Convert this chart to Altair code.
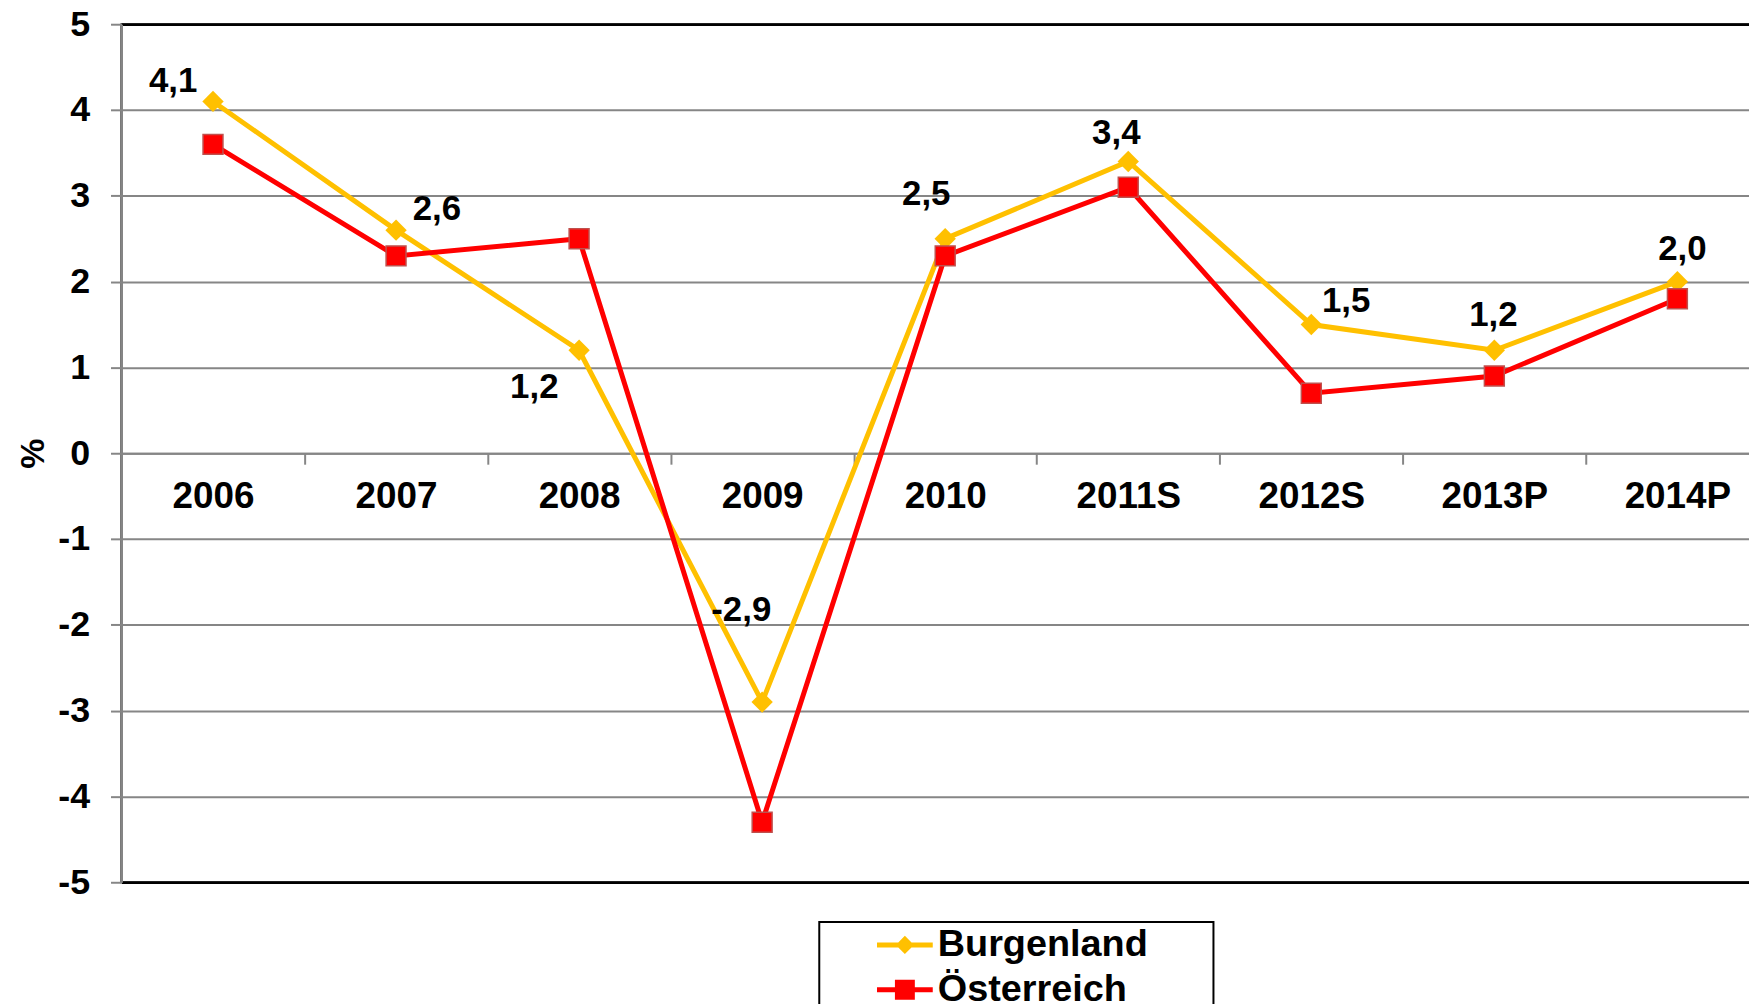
import altair as alt
import pandas as pd

# ---------------- data ----------------
categories = ["2006", "2007", "2008", "2009", "2010", "2011S", "2012S", "2013P", "2014P"]
burgenland = [4.1, 2.6, 1.2, -2.9, 2.5, 3.4, 1.5, 1.2, 2.0]
oesterreich = [3.6, 2.3, 2.5, -4.3, 2.3, 3.1, 0.7, 0.9, 1.8]
series_names = ["Burgenland", "Österreich"]
y_ticks = [-5, -4, -3, -2, -1, 0, 1, 2, 3, 4, 5]

# label placement (styling: pixel offsets of each Burgenland value label)
label_dx = [-40, 41, -45, -21, -19, -12, 35, -1, 5]
label_dy = [-20, -21, 37, -92, -45, -29, -24, -35, -33]

FONT = "Liberation Sans"
GOLD = "#FFC000"
RED = "#FF0000"
GRID = "#868686"

df = pd.DataFrame({
    "category": categories + categories,
    "series": [series_names[0]] * len(categories) + [series_names[1]] * len(categories),
    "value": burgenland + oesterreich,
})

x_enc = alt.X(
    "category:N",
    sort=categories,
    scale=alt.Scale(type="band", paddingInner=0, paddingOuter=0),
    axis=alt.Axis(
        title=None, orient="bottom", offset=-431,
        domainColor=GRID, domainWidth=2,
        tickColor=GRID, tickWidth=2, tickSize=11, tickBand="extent",
        labelFont=FONT, labelFontSize=37, labelFontWeight="bold", labelColor="black",
        labelPadding=15, labelAngle=0, grid=False, zindex=0,
    ),
)
y_enc = alt.Y(
    "value:Q",
    scale=alt.Scale(domain=[-5, 5], nice=False, zero=False),
    axis=alt.Axis(
        title="%", values=y_ticks, grid=True,
        gridColor={"condition": {"test": "abs(datum.value) == 5", "value": "black"}, "value": GRID},
        gridWidth={"condition": {"test": "abs(datum.value) == 5", "value": 2.5}, "value": 2},
        domainColor=GRID, domainWidth=2,
        tickColor=GRID, tickWidth=2, tickSize=11,
        labelFont=FONT, labelFontSize=36, labelFontWeight="bold", labelColor="black",
        labelPadding=21, labelExpr="replace(datum.label, '\u2212', '-')",
        titleFont=FONT, titleFontSize=34, titleFontWeight="bold", titleColor="black",
        titleAngle=270, titleX=-88, titleY=431, titleAlign="center", titleBaseline="middle",
        zindex=0,
    ),
)

base = alt.Chart(df).encode(x=x_enc, y=y_enc)

is_b = alt.datum.series == series_names[0]
is_o = alt.datum.series == series_names[1]

line_b = base.transform_filter(is_b).mark_line(color=GOLD, strokeWidth=5)
pts_b = base.transform_filter(is_b).mark_point(shape="diamond", filled=True, size=460, color=GOLD, opacity=1)
line_o = base.transform_filter(is_o).mark_line(color=RED, strokeWidth=5)
pts_o = base.transform_filter(is_o).mark_point(
    shape="square", filled=True, size=400, fill=RED, stroke="#C0504D", strokeWidth=1.5, opacity=1
)

# legend layer (invisible marks, visible legend with line+marker symbols)
path_b = "M-2.24,0L2.24,0M-0.45,0L0,-0.45L0.45,0L0,0.45Z"
path_o = "M-2.24,0L2.24,0M-0.6,-0.6L0.6,-0.6L0.6,0.6L-0.6,0.6Z"


def leg():
    return alt.Legend(
        title="\u200b", titleOrient="right", titlePadding=62, titleFontSize=10,
        orient="none", legendX=701, legendY=902,
    )


legend_layer = base.mark_point(filled=True, opacity=0, size=625).encode(
    color=alt.Color("series:N", scale=alt.Scale(domain=series_names, range=[GOLD, RED]), legend=leg()),
    stroke=alt.Stroke("series:N", scale=alt.Scale(domain=series_names, range=[GOLD, RED]), legend=leg()),
    shape=alt.Shape("series:N", scale=alt.Scale(domain=series_names, range=[path_b, path_o]), legend=leg()),
)

label_expr = "replace(replace(format(datum.value, '.1f'), '.', ','), '\u2212', '-')"
text_layers = []
for i, cat in enumerate(categories):
    text_layers.append(
        base.transform_filter(is_b & (alt.datum.category == cat))
        .transform_calculate(label=label_expr)
        .mark_text(
            dx=label_dx[i], dy=label_dy[i], font=FONT, fontSize=35, fontWeight="bold",
            color="black", align="center", baseline="middle",
        )
        .encode(text="label:N")
    )

chart = (
    alt.layer(line_b, pts_b, line_o, pts_o, legend_layer, *text_layers)
    .properties(
        width=1655, height=862,
        autosize=alt.AutoSizeParams(type="none"),
        padding={"left": 114, "top": 14, "right": -20, "bottom": 120},
        background="white",
    )
    .configure_view(stroke="black", strokeWidth=2)
    .configure_legend(
        padding=4, strokeColor="black", strokeWidth=2, fillColor="white",
        labelFont=FONT, labelFontSize=38, labelFontWeight="bold", labelColor="black",
        symbolSize=625, symbolStrokeWidth=5, symbolOpacity=1,
        symbolOffset=63, labelOffset=14, rowPadding=7, labelLimit=600,
    )
)

chart.save("out.html", embed_options={"renderer": "svg", "actions": False})
